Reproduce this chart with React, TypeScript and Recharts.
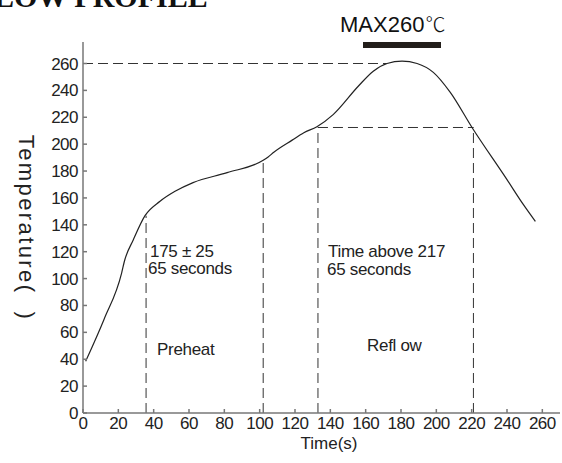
import { LineChart, Line, XAxis, YAxis, ReferenceLine } from "recharts";

// reflow profile: time (s) / temperature (C)
const times = [1.5, 12, 21.9, 23.4, 28.5, 35.1, 43.6, 52.1, 62.3, 81.6, 102, 104.8, 108, 118.4, 125, 132.4, 141.6, 155.8, 164.3, 172.1, 180.6, 189.1, 198.3, 207.9, 220.2, 240, 249.3, 256.1];
const temps = [38.5, 70, 104.3, 112.7, 128.9, 146.8, 157.5, 164.9, 171.4, 178.8, 188, 190.5, 194, 203, 208.5, 213, 222, 243.1, 254.3, 260, 261.8, 260, 253.4, 238.5, 212.4, 173.6, 155, 142.5];

const xTicks = [0, 20, 40, 60, 80, 100, 120, 140, 160, 180, 200, 220, 240, 260];
const yTicks = [0, 20, 40, 60, 80, 100, 120, 140, 160, 180, 200, 220, 240, 260];

// zone boundaries (time) and the curve temperature there
const zoneTimes = [35.7, 102, 133, 221];
const zoneTemps = [146.8, 188, 212.4, 212.4];
const peakTemp = 260;
const peakTime = 172;
const liquidus = 212.4;

const data = times.map((t, i) => ({ t, temp: temps[i] }));

const sans = "'Liberation Sans', Arial, sans-serif";
const ink = "#222";
const dash = "10 5";

export default function App() {
  return (
    <div style={{ position: "absolute", left: 0, top: 0, width: 562, height: 463, background: "#fff" }}>
      <LineChart
        width={562}
        height={463}
        data={data}
        margin={{ top: 42, right: 2, bottom: 20, left: 43 }}
      >
        <XAxis
          dataKey="t"
          type="number"
          domain={[0, 270]}
          ticks={xTicks}
          interval={0}
          height={30}
          tickSize={-4}
          tickMargin={8}
          stroke="#777"
          strokeWidth={1.5}
          tick={{ fill: ink, fontSize: 17, fontFamily: sans, letterSpacing: -0.5 }}
        />
        <YAxis
          type="number"
          domain={[0, 276]}
          ticks={yTicks}
          interval={0}
          width={40}
          tickSize={-4}
          tickMargin={9}
          stroke="#777"
          strokeWidth={1.5}
          tick={{ fill: ink, fontSize: 17, fontFamily: sans, letterSpacing: -0.5 }}
        />
        <ReferenceLine
          segment={[{ x: 0, y: peakTemp }, { x: peakTime, y: peakTemp }]}
          stroke="#333"
          strokeDasharray={dash}
        />
        <ReferenceLine
          segment={[{ x: zoneTimes[2], y: liquidus }, { x: zoneTimes[3], y: liquidus }]}
          stroke="#333"
          strokeDasharray={dash}
        />
        {zoneTimes.map((zt, i) => (
          <ReferenceLine
            key={zt}
            segment={[{ x: zt, y: 0 }, { x: zt, y: zoneTemps[i] }]}
            stroke="#333"
            strokeDasharray={dash}
          />
        ))}
        <Line
          dataKey="temp"
          type="monotone"
          stroke={ink}
          strokeWidth={1.2}
          dot={false}
          isAnimationActive={false}
        />
      </LineChart>

      <svg
        width={562}
        height={463}
        style={{ position: "absolute", left: 0, top: 0, pointerEvents: "none" }}
      >
        <text
          x={-66}
          y={7}
          fontFamily="'Liberation Serif', 'Times New Roman', serif"
          fontWeight="bold"
          fontSize={30}
          fill="#111"
        >
          REFLOW PROFILE
        </text>

        <text x={340} y={32} fontFamily={sans} fontSize={22} fill="#111">
          MAX260
          <tspan fontFamily="'Noto Sans CJK SC', 'DejaVu Sans', sans-serif" fontSize={20} fontWeight={300} dx={1}>
            ℃
          </tspan>
        </text>
        <rect x={363} y={42} width={78} height={6} fill="#221e1a" />

        <g fontFamily={sans} fontSize={17} fill={ink} letterSpacing={-0.3}>
          <text x={150} y={257}>175 ± 25</text>
          <text x={148} y={274}>65 seconds</text>
          <text x={328} y={257}>Time above 217</text>
          <text x={327} y={275}>65 seconds</text>
          <text x={157} y={355}>Preheat</text>
          <text x={367} y={351}>Refl ow</text>
        </g>

        <text x={329} y={449} textAnchor="middle" fontFamily={sans} fontSize={17} fill={ink}>
          Time(s)
        </text>
        <text
          x={19}
          y={228}
          textAnchor="middle"
          transform="rotate(90, 19, 228)"
          fontFamily={sans}
          fontSize={22}
          letterSpacing={2.4}
          fill={ink}
          style={{ whiteSpace: "pre" }}
        >
          {"Temperature(  )"}
        </text>
      </svg>
    </div>
  );
}
